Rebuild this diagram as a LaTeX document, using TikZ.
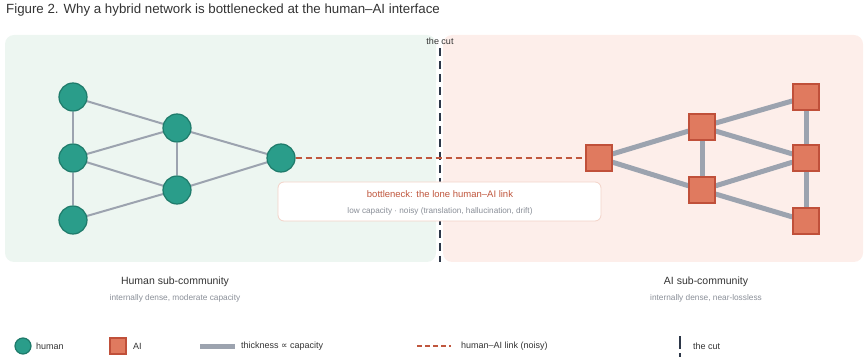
\documentclass[tikz,border=0pt]{standalone}
\usepackage{fontspec}
\setmainfont{Liberation Sans}
\newfontfamily\symfont{DejaVu Sans}
\pgfdeclarelayer{bg}
\pgfsetlayers{bg,main}
\definecolor{greenpanel}{HTML}{EDF6F1}
\definecolor{pinkpanel}{HTML}{FDEEEA}
\definecolor{humfill}{HTML}{2A9D8A}
\definecolor{humdraw}{HTML}{1E7A6A}
\definecolor{aifill}{HTML}{E07A5F}
\definecolor{aidraw}{HTML}{C0503A}
\definecolor{edgegray}{HTML}{9CA3AF}
\definecolor{noisyred}{HTML}{C0573E}
\definecolor{cutcol}{HTML}{2D3748}
\definecolor{textdark}{HTML}{333333}
\definecolor{textgray}{HTML}{8A8F98}
\definecolor{boxborder}{HTML}{F3D3C8}
\tikzset{
  human/.style={circle, fill=humfill, draw=humdraw, line width=1.2pt, minimum size=28pt, inner sep=0pt},
  aibox/.style={rectangle, fill=aifill, draw=aidraw, line width=1.2pt, minimum size=26pt, inner sep=0pt},
  hedge/.style={draw=edgegray, line width=2pt},
  aedge/.style={draw=edgegray, line width=5pt},
  noisy/.style={draw=noisyred, line width=1.6pt, dash pattern=on 6pt off 4pt},
  cutline/.style={draw=cutcol, line width=2.2pt, dash pattern=on 8pt off 5pt},
  panel/.style={rounded corners=9pt, draw=none},
  lbl/.style={inner sep=0pt, text=textdark},
  fs/.style={font=\fontsize{#1}{#1}\selectfont},
}
\begin{document}
\begin{tikzpicture}[x=1pt, y=-1pt]
\useasboundingbox (0,0) rectangle (865,358);
% title
\node[lbl, anchor=west, fs=13.3] (title) at (6,10) {Figure 2. Why a hybrid network is bottlenecked at the human–AI interface};
% panels and cut
\begin{pgfonlayer}{bg}
\fill[panel, greenpanel] (5,35) rectangle (436,262);
\fill[panel, pinkpanel] (443,35) rectangle (863,262);
\end{pgfonlayer}
\node[lbl, fs=9] (cutlabel) at (440,41) {the cut};
\coordinate (cuttop) at (440,48);
\coordinate (cutbot) at (440,262);
\begin{pgfonlayer}{bg}
\draw[cutline] (cuttop) -- (cutbot);
\end{pgfonlayer}
% human nodes
\node[human] (h1) at (73,97) {};
\node[human] (h2) at (73,158) {};
\node[human] (h3) at (73,220) {};
\node[human] (h4) at (177,128) {};
\node[human] (h5) at (177,190) {};
\node[human] (h6) at (281,158) {};
% AI nodes
\node[aibox] (a1) at (599,158) {};
\node[aibox] (a2) at (702,127) {};
\node[aibox] (a3) at (702,190) {};
\node[aibox] (a4) at (806,97) {};
\node[aibox] (a5) at (806,158) {};
\node[aibox] (a6) at (806,221) {};
\begin{pgfonlayer}{bg}
\foreach \u/\v in {h1/h2,h2/h3,h1/h4,h2/h4,h2/h5,h3/h5,h4/h5,h4/h6,h5/h6}
  \draw[hedge] (\u) -- (\v);
\foreach \u/\v in {a1/a2,a1/a3,a2/a3,a2/a4,a2/a5,a3/a5,a3/a6,a4/a5,a5/a6}
  \draw[aedge] (\u) -- (\v);
\draw[noisy] (h6) -- (a1);
\end{pgfonlayer}
% bottleneck box
\node[draw=boxborder, fill=white, line width=0.8pt, rounded corners=6pt,
      minimum width=323pt, minimum height=39pt, inner sep=0pt] (bbox) at (439.5,201.5) {};
\node[lbl, fs=9.5, text=noisyred] (btitle) at (440,194) {bottleneck: the lone human–AI link};
\node[lbl, fs=8.2, text=textgray] (bsub) at (440,211) {low capacity · noisy (translation, hallucination, drift)};
% community labels
\node[lbl, fs=10.5] (hlab) at (175,282) {Human sub-community};
\node[lbl, fs=8.3, text=textgray] (hsub) at (175,298) {internally dense, moderate capacity};
\node[lbl, fs=10.5] (alab) at (706,282) {AI sub-community};
\node[lbl, fs=8.3, text=textgray] (asub) at (706,298) {internally dense, near-lossless};
% legend
\node[human, minimum size=16pt] (lh) at (23,346) {};
\node[lbl, anchor=west, fs=9] (lht) at (36,346) {human};
\node[aibox, minimum size=16pt] (la) at (118,346) {};
\node[lbl, anchor=west, fs=9] (lat) at (133,346) {AI};
\coordinate (lg1) at (200,346);
\coordinate (lg2) at (235,346);
\draw[aedge] (lg1) -- (lg2);
\node[lbl, anchor=west, fs=9] (lgt) at (241,346) {thickness {\symfont ∝} capacity};
\coordinate (ln1) at (417,346);
\coordinate (ln2) at (451,346);
\draw[noisy, dash pattern=on 5pt off 3pt] (ln1) -- (ln2);
\node[lbl, anchor=west, fs=9] (lnt) at (461,346) {human–AI link (noisy)};
\coordinate (lc1) at (680,336);
\coordinate (lc2) at (680,357);
\draw[cutline, dash pattern=on 13pt off 4pt] (lc1) -- (lc2);
\node[lbl, anchor=west, fs=9] (lct) at (693,346) {the cut};
\end{tikzpicture}
\end{document}
